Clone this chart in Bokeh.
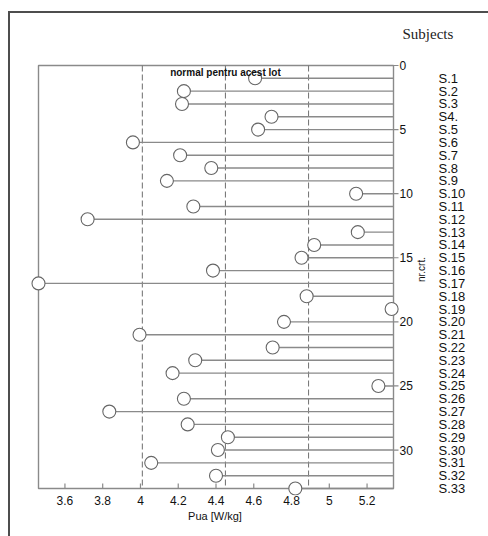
from bokeh.plotting import figure
from bokeh.models import Range1d, FixedTicker, NumeralTickFormatter, ColumnDataSource, LinearAxis
from bokeh.core.properties import value
from bokeh.embed import file_html
from bokeh.resources import INLINE

# ---------------- data ----------------
subjects = ["S.1", "S.2", "S.3", "S4.", "S.5", "S.6", "S.7", "S.8", "S.9", "S.10",
            "S.11", "S.12", "S.13", "S.14", "S.15", "S.16", "S.17", "S.18", "S.19", "S.20",
            "S.21", "S.22", "S.23", "S.24", "S.25", "S.26", "S.27", "S.28", "S.29", "S.30",
            "S.31", "S.32", "S.33"]
nr_crt = list(range(1, 34))
pua = [4.607, 4.23, 4.22, 4.694, 4.623, 3.96, 4.21, 4.375, 4.14, 5.142,
       4.28, 3.72, 5.151, 4.92, 4.853, 4.384, 3.46, 4.88, 5.33, 4.76,
       3.995, 4.70, 4.29, 4.17, 5.26, 4.23, 3.835, 4.25, 4.463, 4.41,
       4.057, 4.40, 4.82]
x_ticks = [3.6, 3.8, 4.0, 4.2, 4.4, 4.6, 4.8, 5.0, 5.2]
y_ticks = [0, 5, 10, 15, 20, 25, 30]
normal_limits = [4.01, 4.45, 4.89]
normal_text = "normal pentru acest lot"
x_limits = [3.46, 5.34]
y_limits = [0, 33]

# ---------------- layout ----------------
W, H = 488, 536
BOX_L, BOX_R, BOX_T, BOX_B = 38, 393, 65, 488
PAD_L, PAD_R, PAD_T, PAD_B = 8, 6, 2, 7
XMIN, XMAX = x_limits
YMIN, YMAX = y_limits
xs = (XMAX - XMIN) / (BOX_R - BOX_L)
ys = (YMAX - YMIN) / (BOX_B - BOX_T)
YLABEL = (YMIN + YMAX) / 2 + 5 * ys   # rotated axis title, nudged 5 px down

LINE = "#8a8a8a"
MARK = "#666666"
FONT = "Liberation Sans"
EDGE = "#4d4d4d"

p = figure(width=W, height=H, output_backend="svg", toolbar_location=None,
           x_range=Range1d(XMIN - PAD_L * xs, XMAX + PAD_R * xs),
           y_range=Range1d(YMAX + PAD_B * ys, YMIN - PAD_T * ys),
           y_axis_location="right",
           min_border_left=BOX_L - PAD_L, min_border_right=W - BOX_R - PAD_R,
           min_border_top=BOX_T - PAD_T, min_border_bottom=H - BOX_B - PAD_B)
p.outline_line_color = None
p.grid.visible = False
p.background_fill_color = "white"
p.border_fill_color = None
# outer frame of the picture (only its left and top edges are inside the window)
p.styles = {
    "background-color": "white",
    "background-image": "linear-gradient(%s,%s), linear-gradient(%s,%s)" % (EDGE, EDGE, EDGE, EDGE),
    "background-size": "2px 3000px, 3000px 2px",
    "background-position": "8px 11px, 8px 11px",
    "background-repeat": "no-repeat",
}

# title
p.title.text = "Subjects"
p.title.align = "left"
p.title.offset = 372
p.title.text_font = "Liberation Serif"
p.title.text_font_size = "15px"
p.title.text_font_style = "normal"
p.title.text_color = "#222222"
p.title.standoff = 43

# plot box
p.quad(left=[XMIN], right=[XMAX], top=[YMIN], bottom=[YMAX],
       fill_color=None, line_color=LINE, line_width=1.4)

# normal limits
p.segment(x0=normal_limits, x1=normal_limits, y0=YMIN, y1=YMAX,
          line_color="#7a7a7a", line_width=1.1, line_dash="6 3")

# ticks (inside on bottom, outside the box on right)
p.segment(x0=x_ticks, x1=x_ticks, y0=YMAX, y1=YMAX - 5 * ys, line_color=LINE, line_width=1.2)
p.segment(x0=XMAX, x1=XMAX + 5 * xs, y0=y_ticks, y1=y_ticks, line_color=LINE, line_width=1.2)

src = ColumnDataSource(dict(pua=pua, nr=nr_crt, name=subjects))
p.segment(x0="pua", x1=XMAX, y0="nr", y1="nr", source=src, line_color=LINE, line_width=1.4)
p.scatter(x="pua", y="nr", source=src, size=13, marker="circle",
          fill_color="white", line_color=MARK, line_width=1.1)

p.text(x=[normal_limits[1]], y=[0.57], text=[normal_text], text_font=value(FONT),
       text_font_size="10px", text_font_style="bold", text_align="center",
       text_baseline="middle", text_color="#111111")


def plain(axis, size):
    axis.axis_line_color = None
    axis.major_tick_line_color = None
    axis.minor_tick_line_color = None
    axis.major_tick_in = 0
    axis.major_tick_out = 0
    axis.major_label_standoff = 0
    axis.major_label_text_font = FONT
    axis.major_label_text_font_size = size
    axis.major_label_text_color = "#111111"
    axis.axis_label_text_font = FONT
    axis.axis_label_text_font_style = "normal"
    axis.axis_label_text_color = "#111111"


xa = p.xaxis[0]
plain(xa, "12px")
xa.ticker = FixedTicker(ticks=x_ticks)
xa.formatter = NumeralTickFormatter(format="0.[0]")
xa.axis_label = "Pua [W/kg]"
xa.axis_label_text_font_size = "11px"
xa.axis_label_standoff = 2

ya = p.yaxis[0]
plain(ya, "12px")
ya.ticker = FixedTicker(ticks=y_ticks)

# axis title "nr.crt." (rotated, reading upwards)
ta = LinearAxis(ticker=FixedTicker(ticks=[YLABEL]), major_label_overrides={YLABEL: "nr.crt."},
                major_label_orientation=1.5708)
plain(ta, "10px")
ta.major_label_standoff = 6
p.add_layout(ta, "right")

# subject names as a further right axis
sa = LinearAxis(ticker=FixedTicker(ticks=nr_crt),
                major_label_overrides=dict(zip(nr_crt, subjects)))
plain(sa, "13px")
sa.major_label_standoff = 3
p.add_layout(sa, "right")

open("out.html", "w").write(file_html(p, INLINE))
